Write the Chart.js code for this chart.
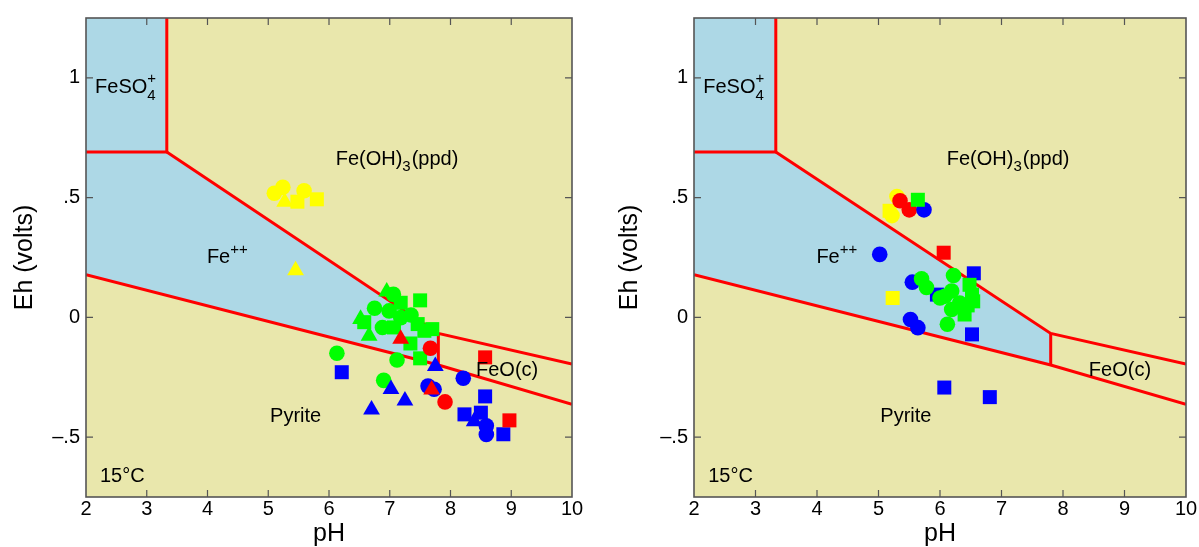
<!DOCTYPE html>
<html>
<head>
<meta charset="utf-8">
<script src="https://cdn.jsdelivr.net/npm/chart.js@4.4.1/dist/chart.umd.min.js"></script>
<style>
  html, body { margin: 0; padding: 0; background: #ffffff; }
  #wrap { position: relative; width: 1199px; height: 547px; overflow: hidden; }
  .panel { position: absolute; top: 0; height: 547px; }
  #pA { left: 0; width: 600px; }
  #pB { left: 600px; width: 599px; }
</style>
</head>
<body>
<div id="wrap">
  <div class="panel" id="pA"><canvas id="cA" width="600" height="547"></canvas></div>
  <div class="panel" id="pB"><canvas id="cB" width="599" height="547"></canvas></div>
</div>
<script>
// ---- axes ----
const phRange = [2, 10];
const ehRange = [-0.75, 1.25];
const phTicks = [2, 3, 4, 5, 6, 7, 8, 9, 10];
const ehTicks = [-0.5, 0, 0.5, 1];
const ehTickLabels = ['\u2013.5', '0', '.5', '1'];

// ---- stability fields (pH, Eh vertices), 15 °C ----
const feso4Field   = [[2, 1.25], [3.33, 1.25], [3.33, 0.69], [2, 0.69]];
const ferrousField = [[2, 0.69], [3.33, 0.69], [7.8, -0.067], [7.8, -0.199], [2, 0.178]];

// ---- field boundaries ----
const feso4Edge     = [[3.33, 1.25], [3.33, 0.69], [2, 0.69]];
const hydroxideEdge = [[3.33, 0.69], [7.8, -0.067], [10, -0.195]];
const pyriteEdge    = [[2, 0.178], [7.8, -0.199], [10, -0.363]];
const oxideEdge     = [[7.8, -0.067], [7.8, -0.199]];

// ---- field names, anchored at (pH, Eh) ----
const fieldNames = [
  { ph: 2.15, eh: 0.96,   parts: [['FeSO'], ['4', 'sub', '+']] },
  { ph: 6.11, eh: 0.66,   parts: [['Fe(OH)'], ['3', 'sub'], ['(ppd)']] },
  { ph: 3.99, eh: 0.25,   parts: [['Fe'], ['++', 'sup']] },
  { ph: 5.03, eh: -0.414, parts: [['Pyrite']] },
  { ph: 8.42, eh: -0.223, parts: [['FeO(c)']] },
  { ph: 2.23, eh: -0.665, parts: [['15\u00B0C']] }
];

// ---- left panel samples (pH, Eh) ----
const aYellowCircle   = [[5.10, 0.518], [5.24, 0.543], [5.59, 0.529]];
const aYellowSquare   = [[5.48, 0.483], [5.80, 0.493]];
const aYellowTriangle = [[5.27, 0.482], [5.45, 0.196]];
const aGreenCircle    = [[7.06, 0.096], [6.75, 0.038], [7.35, 0.010], [6.88, -0.042], [6.99, 0.027],
                         [7.18, -0.001], [7.12, -0.178], [6.13, -0.150], [6.90, -0.263]];
const aGreenSquare    = [[7.18, 0.061], [7.50, 0.071], [7.70, -0.049], [7.34, -0.109], [7.50, -0.171],
                         [7.46, -0.028], [6.58, -0.020], [7.07, -0.042], [7.57, -0.056]];
const aGreenTriangle  = [[6.95, 0.107], [6.52, -0.007], [6.66, -0.077]];
const aBlueCircle     = [[7.63, -0.287], [7.73, -0.300], [8.21, -0.254], [8.59, -0.453], [8.59, -0.489]];
const aBlueSquare     = [[6.21, -0.229], [8.57, -0.330], [8.23, -0.405], [8.50, -0.398], [8.87, -0.488]];
const aBlueTriangle   = [[7.75, -0.204], [7.02, -0.300], [7.25, -0.348], [6.70, -0.385], [8.39, -0.434]];
const aRedCircle      = [[7.67, -0.129], [7.91, -0.353]];
const aRedSquare      = [[8.57, -0.167], [8.97, -0.430]];
const aRedTriangle    = [[7.18, -0.090], [7.69, -0.302]];

// ---- right panel samples (pH, Eh) ----
const bYellowCircle = [[5.30, 0.505], [5.22, 0.425]];
const bYellowSquare = [[5.18, 0.445], [5.23, 0.081]];
const bRedCircle    = [[5.35, 0.487], [5.50, 0.449]];
const bRedSquare    = [[6.06, 0.270]];
const bBlueCircle   = [[5.74, 0.449], [5.02, 0.263], [5.55, 0.147], [5.52, -0.009], [5.64, -0.043]];
const bBlueSquare   = [[6.55, 0.184], [5.95, 0.095], [6.52, -0.071], [6.07, -0.293], [6.81, -0.333]];
const bGreenCircle  = [[5.70, 0.161], [5.78, 0.125], [6.22, 0.175], [6.00, 0.081], [6.08, 0.088],
                       [6.19, 0.110], [6.32, 0.060], [6.19, 0.033], [6.12, -0.029]];
const bGreenSquare  = [[5.64, 0.491], [6.48, 0.136], [6.52, 0.095], [6.54, 0.067], [6.45, 0.050], [6.40, 0.012]];

// ---- styling ----
const FAMILY = '"Liberation Sans", Arial, Helvetica, sans-serif';
const TAN = 'rgb(233, 231, 172)';
const BLUE_FIELD = 'rgb(173, 216, 230)';
const EDGE_RED = '#ff0000';
const FRAME = '#555555';
const YELLOW = '#ffff00', GREEN = '#00ff00', BLUE = '#0000ff', RED = '#ff0000';

const toXY = arr => arr.map(([x, y]) => ({ x, y }));

function fieldSet(poly) {
  return { type: 'line', data: toXY(poly), fill: 'shape', backgroundColor: BLUE_FIELD,
           borderColor: 'rgba(0,0,0,0)', borderWidth: 0, pointRadius: 0, tension: 0 };
}
function edgeSet(line) {
  return { type: 'line', data: toXY(line), fill: false, borderColor: EDGE_RED, borderWidth: 3,
           pointRadius: 0, tension: 0 };
}
const RADIUS = { circle: 7.8, rect: 9.9, triangle: 9.7 };
function markSet(pts, color, shape) {
  return { type: 'scatter', data: toXY(pts), showLine: false, pointStyle: shape,
           pointRadius: RADIUS[shape], pointBackgroundColor: color, backgroundColor: color,
           pointBorderWidth: 0, borderWidth: 0, pointHoverRadius: RADIUS[shape] };
}

function drawName(ctx, x, y, parts) {
  let cx = x;
  for (const [txt, mode, extra] of parts) {
    if (!mode) {
      ctx.font = '20px ' + FAMILY;
      ctx.fillText(txt, cx, y);
      cx += ctx.measureText(txt).width;
    } else {
      ctx.font = '15px ' + FAMILY;
      const dy = mode === 'sub' ? 8 : -8;
      ctx.fillText(txt, cx, y + dy);
      let w = ctx.measureText(txt).width;
      if (extra) {
        ctx.fillText(extra, cx, y - 9);
        w = Math.max(w, ctx.measureText(extra).width);
      }
      cx += w + 1;
    }
  }
}

const panelDecor = {
  id: 'panelDecor',
  beforeDatasetsDraw(chart) {
    const { ctx, chartArea: a, scales: { x, y } } = chart;
    ctx.save();
    ctx.fillStyle = TAN;
    ctx.fillRect(a.left, a.top, a.right - a.left, a.bottom - a.top);
    ctx.restore();
  },
  afterDatasetsDraw(chart) {
    const { ctx, chartArea: a, scales: { x, y } } = chart;
    ctx.save();
    // field names
    ctx.fillStyle = '#000';
    ctx.textAlign = 'left';
    ctx.textBaseline = 'middle';
    for (const n of fieldNames) {
      drawName(ctx, x.getPixelForValue(n.ph), y.getPixelForValue(n.eh), n.parts);
    }
    // frame with inward tick marks on all four sides
    ctx.strokeStyle = FRAME;
    ctx.lineWidth = 1.6;
    ctx.strokeRect(a.left, a.top, a.right - a.left, a.bottom - a.top);
    ctx.lineWidth = 1.2;
    const T = 7;
    ctx.beginPath();
    for (const t of x.ticks) {
      const px = x.getPixelForValue(t.value);
      if (px <= a.left + 1 || px >= a.right - 1) continue;
      ctx.moveTo(px, a.bottom); ctx.lineTo(px, a.bottom - T);
      ctx.moveTo(px, a.top); ctx.lineTo(px, a.top + T);
    }
    for (const t of y.ticks) {
      const py = y.getPixelForValue(t.value);
      ctx.moveTo(a.left, py); ctx.lineTo(a.left + T, py);
      ctx.moveTo(a.right, py); ctx.lineTo(a.right - T, py);
    }
    ctx.stroke();
    ctx.restore();
  }
};

function makePanel(canvasId, markLayers, box) {
  const layers = [
    fieldSet(feso4Field),
    fieldSet(ferrousField),
    edgeSet(feso4Edge),
    edgeSet(hydroxideEdge),
    edgeSet(pyriteEdge),
    edgeSet(oxideEdge),
    ...markLayers
  ];
  // Chart.js paints the first dataset on top, so list them top-first
  const datasets = layers.slice().reverse();

  new Chart(document.getElementById(canvasId), {
    type: 'line',
    data: { datasets },
    options: {
      responsive: false,
      animation: false,
      events: [],
      layout: { padding: { left: 0, right: box.right, top: box.top, bottom: 0 } },
      plugins: { legend: { display: false }, tooltip: { enabled: false } },
      scales: {
        x: {
          type: 'linear', min: phRange[0], max: phRange[1],
          afterBuildTicks: s => { s.ticks = phTicks.map(v => ({ value: v })); },
          afterFit: s => { s.height = 50; },
          grid: { display: false, drawTicks: false },
          border: { display: false },
          ticks: { color: '#000', font: { family: FAMILY, size: 20 }, padding: 0,
                   maxRotation: 0, autoSkip: false, callback: v => String(v) },
          title: { display: true, text: 'pH', color: '#000',
                   font: { family: FAMILY, size: 25, lineHeight: 1 }, padding: { top: 0, bottom: 0 } }
        },
        y: {
          type: 'linear', min: ehRange[0], max: ehRange[1],
          afterBuildTicks: s => { s.ticks = ehTicks.map(v => ({ value: v })); },
          afterFit: s => { s.width = box.yWidth; },
          grid: { display: false, drawTicks: false },
          border: { display: false },
          ticks: { color: '#000', font: { family: FAMILY, size: 20 }, padding: 6,
                   autoSkip: false, callback: v => ehTickLabels[ehTicks.indexOf(v)] },
          title: { display: true, text: 'Eh (volts)', color: '#000',
                   font: { family: FAMILY, size: 25, lineHeight: 1 },
                   padding: { top: box.titleGap, bottom: 0 } }
        }
      }
    },
    plugins: [panelDecor]
  });
}

makePanel('cA', [
  markSet(aYellowCircle, YELLOW, 'circle'),
  markSet(aYellowTriangle, YELLOW, 'triangle'),
  markSet(aYellowSquare, YELLOW, 'rect'),
  markSet(aGreenCircle, GREEN, 'circle'),
  markSet(aGreenSquare, GREEN, 'rect'),
  markSet(aGreenTriangle, GREEN, 'triangle'),
  markSet(aBlueSquare, BLUE, 'rect'),
  markSet(aBlueCircle, BLUE, 'circle'),
  markSet(aBlueTriangle, BLUE, 'triangle'),
  markSet(aRedCircle, RED, 'circle'),
  markSet(aRedSquare, RED, 'rect'),
  markSet(aRedTriangle, RED, 'triangle')
], { right: 28, top: 15, yWidth: 86, titleGap: 12.5 });

makePanel('cB', [
  markSet(bYellowSquare, YELLOW, 'rect'),
  markSet(bYellowCircle, YELLOW, 'circle'),
  markSet(bRedSquare, RED, 'rect'),
  markSet(bRedCircle, RED, 'circle'),
  markSet(bBlueSquare, BLUE, 'rect'),
  markSet(bBlueCircle, BLUE, 'circle'),
  markSet(bGreenSquare, GREEN, 'rect'),
  markSet(bGreenCircle, GREEN, 'circle')
], { right: 13, top: 12, yWidth: 94, titleGap: 17.5 });
</script>
</body>
</html>
